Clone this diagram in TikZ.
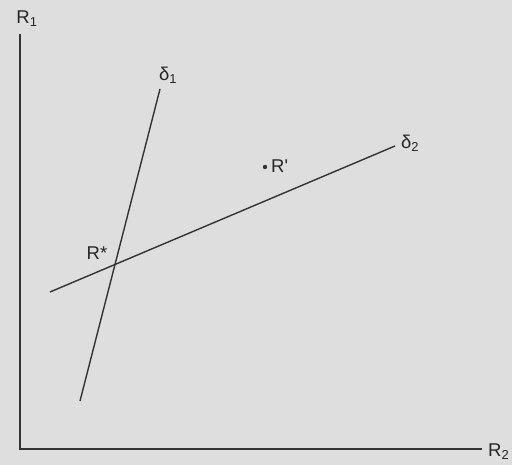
\documentclass[tikz,border=0pt]{standalone}
\usepackage{fontspec}
\setmainfont{Liberation Sans}
\begin{document}
\begin{tikzpicture}[x=1pt,y=-1pt,
  ln/.style={draw=black!80, line width=1.4pt},
  lab/.style={font=\fontsize{18.5}{18.5}\selectfont, text=black!85, inner sep=0pt}]
\useasboundingbox[fill=black!13] (0,0) rectangle (512,465);
% axes
\coordinate (top) at (20,34);
\coordinate (orig) at (20,449);
\coordinate (right) at (482,449);
\draw[ln] (top) -- (orig) -- (right);
\node[lab] (r1) at (27,19) {R\textsubscript{1}};
\node[lab, anchor=west] (r2) at (488,452) {R\textsubscript{2}};
% delta 1
\coordinate (d1a) at (160,89);
\coordinate (d1b) at (80,401);
\draw[ln] (d1a) -- (d1b);
\node[lab] (l1) at (168,75) {δ\textsubscript{1}};
% delta 2
\coordinate (d2a) at (50,292);
\coordinate (d2b) at (395,146);
\draw[ln] (d2a) -- (d2b);
\node[lab] (l2) at (410,143) {δ\textsubscript{2}};
% points
\node[lab] (rs) at (97,253) {R*};
\fill[black!80] (265,167) circle (2.2);
\node[lab, anchor=west] (rp) at (271,166) {R\textquotesingle};
\end{tikzpicture}
\end{document}
